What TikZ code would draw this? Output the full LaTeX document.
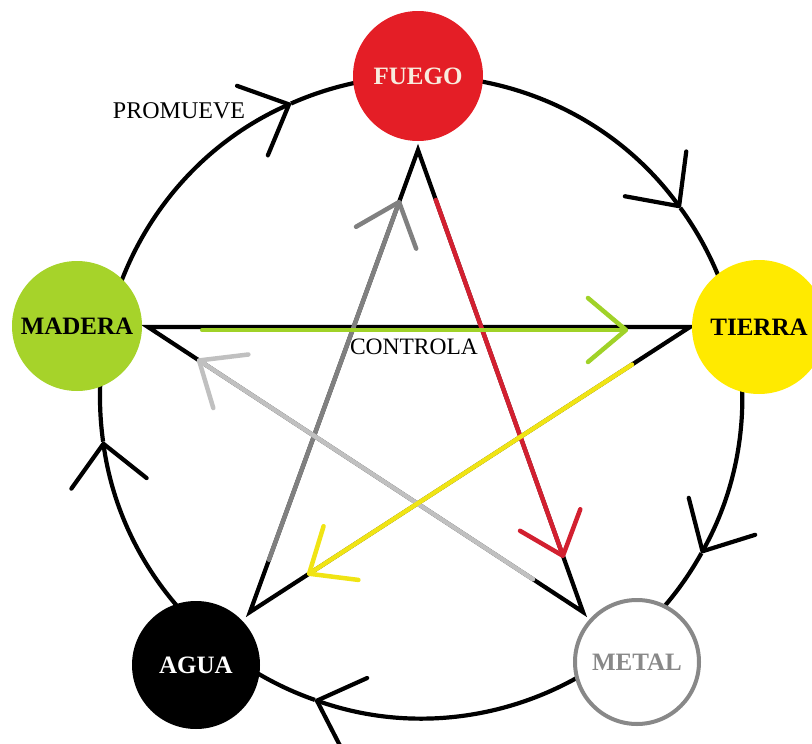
\documentclass[tikz,border=0pt]{standalone}
\usepackage{fontspec}
\setmainfont{Liberation Serif}
\usetikzlibrary{arrows.meta,calc}
\definecolor{cfuego}{RGB}{228,30,38}
\definecolor{cmadera}{RGB}{166,211,42}
\definecolor{ctierra}{RGB}{255,234,0}
\definecolor{cmetal}{RGB}{136,136,136}
\definecolor{cfuegotxt}{RGB}{248,236,222}
\definecolor{lred}{RGB}{210,32,48}
\definecolor{lgray}{RGB}{128,128,128}
\definecolor{llgray}{RGB}{192,192,192}
\definecolor{lgreen}{RGB}{160,210,40}
\definecolor{lyellow}{RGB}{240,228,20}
\tikzset{
  elem/.style={circle, inner sep=0pt, minimum size=130pt,
    font=\fontsize{25}{28}\selectfont\bfseries},
  ring/.style={line width=4.2pt, draw=black,
    -{Straight Barb[length=40pt, width=76pt, round]}},
  starline/.style={line width=4.2pt, draw=black, line join=miter},
  ctrl/.style={line width=4.5pt, line cap=round,
    -{Straight Barb[length=38pt, width=64pt, round]}},
  lbl/.style={font=\fontsize{24}{28}\selectfont, inner sep=0pt}
}
\begin{document}
\begin{tikzpicture}[x=1pt,y=1pt]
\useasboundingbox (0,0) rectangle (812,-744);
\clip (0,0) rectangle (812,-744);
\coordinate (C) at (421,-397);
% outer cycle (promueve)
\draw[ring] ($(C)+(188:321pt)$) arc[start angle=188, end angle=113.9, radius=321pt];
\draw[ring] ($(C)+(113.9:321pt)$) arc[start angle=113.9, end angle=36.1, radius=321pt];
\draw[ring] ($(C)+(36.1:321pt)$) arc[start angle=36.1, end angle=-29.1, radius=321pt];
\draw[ring] ($(C)+(-29.1:321pt)$) arc[start angle=-29.1, end angle=-109.3, radius=321pt];
\draw[ring] ($(C)+(-109.3:321pt)$) arc[start angle=-109.3, end angle=-172, radius=321pt];
% star vertices
\coordinate (sF) at (418,-150);
\coordinate (sM) at (148,-327);
\coordinate (sT) at (690,-327);
\coordinate (sA) at (250,-612);
\coordinate (sMe) at (583,-612);
\draw[starline] (sF) -- (sA) -- (sT) -- (sM) -- (sMe) -- cycle;
% control arrows
\draw[ctrl, draw=lred] ($(sF)!0.108!(sMe)$) -- ($(sF)!0.883!(sMe)$);
\draw[ctrl, draw=lgray] ($(sA)!0.113!(sF)$) -- ($(sA)!0.892!(sF)$);
\draw[ctrl, draw=llgray] ($(sMe)!0.115!(sM)$) -- ($(sMe)!0.887!(sM)$);
\draw[ctrl, draw=lgreen] ($(sM)!0.100!(sT)+(0,-3)$) -- ($(sM)!0.886!(sT)+(0,-3)$);
\draw[ctrl, draw=lyellow] ($(sT)!0.132!(sA)$) -- ($(sT)!0.870!(sA)$);
% elements
\node[elem, fill=cfuego, text=cfuegotxt] (fuego) at (418,-76) {FUEGO};
\node[elem, fill=cmadera, text=black] (madera) at (77,-326) {MADERA};
\node[elem, fill=ctierra, text=black, minimum size=134pt] (tierra) at (759,-327) {TIERRA};
\node[elem, fill=black, text=white, minimum size=128pt] (agua) at (196,-665) {AGUA};
\node[elem, fill=white, draw=cmetal, line width=4pt, text=cmetal, minimum size=124pt] (metal) at (637,-662) {METAL};
% labels
\node[lbl] (promueve) at (179,-111) {PROMUEVE};
\node[lbl, font=\fontsize{23.5}{28}\selectfont] (controla) at (414,-347) {CONTROLA};
\end{tikzpicture}
\end{document}
